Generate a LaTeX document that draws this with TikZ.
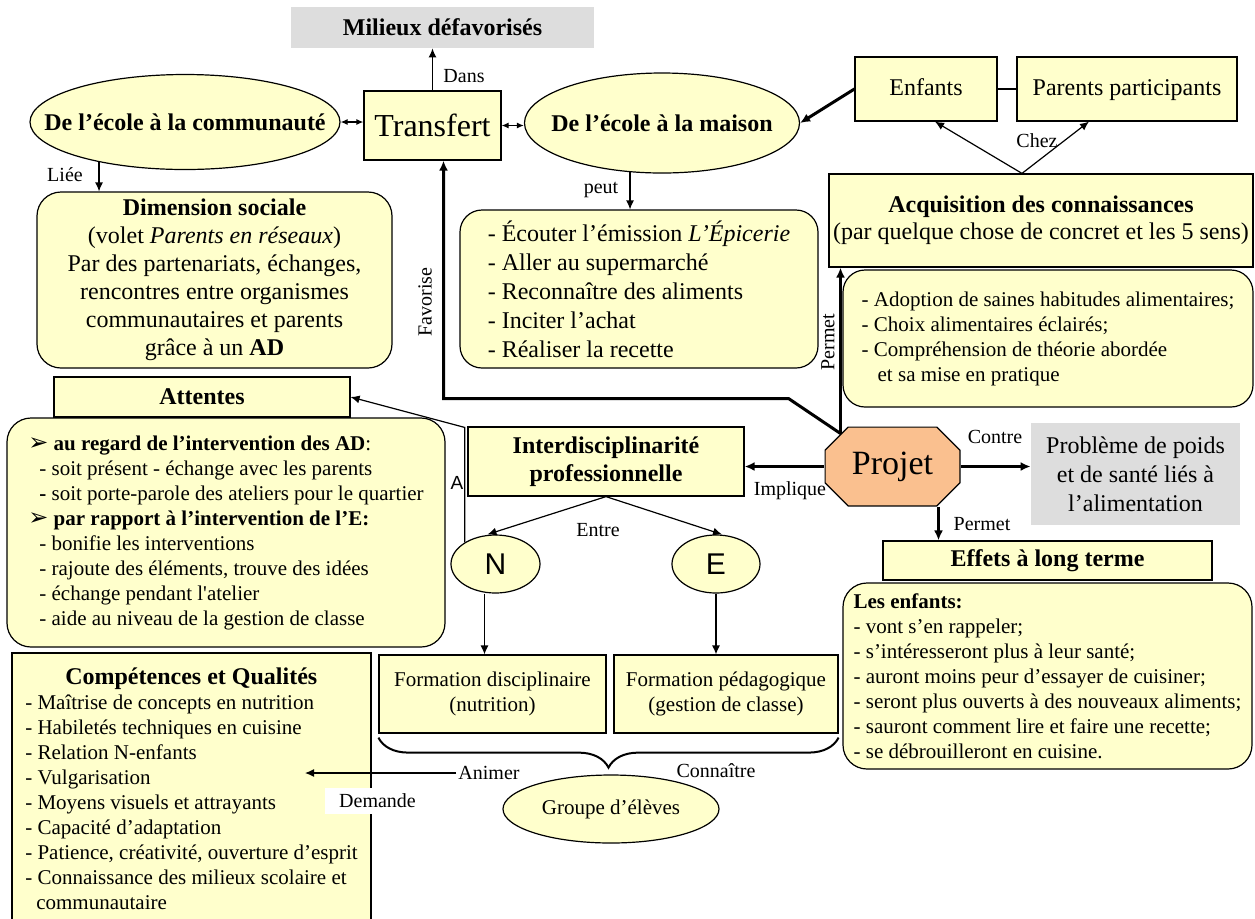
\documentclass[tikz,border=0pt]{standalone}
\usepackage{fontspec}
\setmainfont{Liberation Serif}
\newfontfamily\arialfont{Liberation Sans}
\newfontfamily\symfont{DejaVu Sans}
\usepackage{tikz}
\usetikzlibrary{shapes.geometric,arrows.meta,decorations.pathreplacing}
\definecolor{paleyellow}{RGB}{255,255,204}
\definecolor{lightgrey}{RGB}{221,221,221}
\definecolor{peach}{RGB}{250,192,143}
\newcommand{\puce}{{\symfont\char"27A2}}

\begin{document}
\begin{tikzpicture}[x=0.5pt,y=-0.5pt,
  box/.style={draw,fill=paleyellow,line width=0.6pt,inner sep=0pt,align=center,font=\fontsize{12}{14}\selectfont},
  rbox/.style={box,rounded corners=11pt},
  oval/.style={box,ellipse,inner xsep=-40pt},
  greybox/.style={fill=lightgrey,inner sep=0pt,align=center,font=\fontsize{12}{14.5}\selectfont},
  headfont/.style={font=\fontsize{12}{14}\selectfont\bfseries},
  listfont/.style={font=\fontsize{10.5}{12.5}\selectfont},
  lab/.style={inner sep=1pt,font=\fontsize{10}{12}\selectfont},
  conn/.style={line width=0.6pt,-{Latex[length=4.5pt,width=4pt]}},
  heavy/.style={line width=1.5pt,-{Latex[length=5pt,width=4.5pt]}},
  twoway/.style={line width=0.6pt,{Latex[length=3.5pt,width=3pt]}-{Latex[length=3.5pt,width=3pt]}}]
\path[use as bounding box,clip] (0,0) rectangle (1255,918);

\node[greybox,headfont,minimum width=151.5pt,minimum height=20.5pt] (milieux) at (442.5,27.5) {Milieux défavorisés};
\node[box,minimum width=68.5pt,minimum height=34.5pt,font=\fontsize{16}{18}\selectfont] (transfert) at (432.5,125.5) {Transfert};
\node[oval,headfont,minimum width=155pt,minimum height=47.5pt] (commun) at (185,122) {De l’école à la communauté};
\node[oval,headfont,minimum width=137.5pt,minimum height=50pt] (maison) at (662,123) {De l’école à la maison};
\node[box,minimum width=71pt,minimum height=32pt,text height=8.5pt,text depth=2.5pt] (enfants) at (926,89) {Enfants};
\node[box,minimum width=110pt,minimum height=32pt,text height=8.5pt,text depth=2.5pt] (parents) at (1127,89) {Parents participants};
\node[box,minimum width=212pt,minimum height=46.5pt,font=\fontsize{12}{13.5}\selectfont] (acquis) at (1041,220.5)
  {\textbf{Acquisition des connaissances}\\(par quelque chose de concret et les 5 sens)};
\node[rbox,listfont,minimum width=205pt,minimum height=68.5pt,align=left] (habitudes) at (1048,338.5)
  {- Adoption de saines habitudes alimentaires;\\- Choix alimentaires éclairés;\\- Compréhension de théorie abordée\\\hspace*{8pt}et sa mise en pratique};
\node[rbox,rounded corners=12pt,minimum width=177.5pt,minimum height=88pt] (dimension) at (214.5,280)
  {\textbf{Dimension sociale}\\(volet \textit{Parents en réseaux})\\Par des partenariats, échanges,\\rencontres entre organismes\\communautaires et parents\\grâce à un \textbf{AD}};
\node[rbox,minimum width=179pt,minimum height=79pt,align=left,font=\fontsize{12}{14.5}\selectfont] (actions) at (639,289)
  {- Écouter l’émission \textit{L’Épicerie}\\- Aller au supermarché\\- Reconnaître des aliments\\- Inciter l’achat\\- Réaliser la recette};
\node[box,headfont,minimum width=148pt,minimum height=20pt] (attentes) at (202,397) {Attentes};
\node[rbox,listfont,rounded corners=12pt,minimum width=219pt,minimum height=114.5pt,align=left] (attlist) at (226,532.5)
  {{\fontsize{12}{12.5}\selectfont\puce}\ \textbf{au regard de l’intervention des AD}:\\
   \hspace*{5.5pt}- soit présent - échange avec les parents\\
   \hspace*{5.5pt}\textbf{-} soit porte-parole des ateliers pour le quartier\\
   {\fontsize{12}{12.5}\selectfont\puce}\ \textbf{par rapport à l’intervention de l’E:}\\
   \hspace*{5.5pt}- bonifie les interventions\\
   \hspace*{5.5pt}- rajoute des éléments, trouve des idées\\
   \hspace*{5.5pt}- échange pendant l\textquotesingle atelier\\
   \hspace*{5.5pt}- aide au niveau de la gestion de classe};
\node[inner sep=0pt,minimum width=68pt,minimum height=40pt,font=\fontsize{17}{20}\selectfont,
  path picture={\draw[fill=peach,line width=0.6pt]
    ([xshift=11.8pt,yshift=-0.3pt]path picture bounding box.north west) --
    ([xshift=-11.8pt,yshift=-0.3pt]path picture bounding box.north east) --
    ([xshift=-0.3pt,yshift=-11.8pt]path picture bounding box.north east) --
    ([xshift=-0.3pt,yshift=11.8pt]path picture bounding box.south east) --
    ([xshift=-11.8pt,yshift=0.3pt]path picture bounding box.south east) --
    ([xshift=11.8pt,yshift=0.3pt]path picture bounding box.south west) --
    ([xshift=0.3pt,yshift=11.8pt]path picture bounding box.south west) --
    ([xshift=0.3pt,yshift=-11.8pt]path picture bounding box.north west) -- cycle;}] (projet) at (892.5,466.5) {Projet};
\node[greybox,minimum width=104.5pt,minimum height=51pt] (probleme) at (1135.5,474) {Problème de poids\\et de santé liés à\\l’alimentation};
\node[box,headfont,minimum width=164.5pt,minimum height=19.5pt] (effets) at (1047.5,560.5) {Effets à long terme};
\node[rbox,listfont,rounded corners=12pt,minimum width=204.5pt,minimum height=93pt,align=left] (lesenfants) at (1047.5,676)
  {\textbf{Les enfants:}\\- vont s’en rappeler;\\- s’intéresseront plus à leur santé;\\- auront moins peur d’essayer de cuisiner;\\
   - seront plus ouverts à des nouveaux aliments;\\- sauront comment lire et faire une recette;\\- se débrouilleront en cuisine.};
\node[box,headfont,minimum width=138pt,minimum height=34.5pt] (interdisc) at (606,461.5) {Interdisciplinarité\\professionnelle};
\node[oval,minimum width=44.5pt,minimum height=29pt,font=\fontsize{15}{17}\selectfont\arialfont] (N) at (495.5,564) {N};
\node[oval,minimum width=44pt,minimum height=29pt,font=\fontsize{15}{17}\selectfont\arialfont] (E) at (716,564) {E};
\node[box,listfont,minimum width=113.5pt,minimum height=39pt] (fdisc) at (492.5,694) {Formation disciplinaire\\(nutrition)};
\node[box,listfont,minimum width=112pt,minimum height=39pt] (fpeda) at (726,694) {Formation pédagogique\\(gestion de classe)};
\node[oval,listfont,minimum width=108pt,minimum height=34pt] (groupe) at (611,809) {Groupe d’élèves};
\node[box,listfont,minimum width=179.5pt,minimum height=136pt,align=left] (competences) at (191.5,789)
  {\hspace*{20pt}{\fontsize{12}{12.5}\selectfont\bfseries Compétences et Qualités}\\
   - Maîtrise de concepts en nutrition\\- Habiletés techniques en cuisine\\- Relation N-enfants\\- Vulgarisation\\
   - Moyens visuels et attrayants\\- Capacité d’adaptation\\- Patience, créativité, ouverture d’esprit\\
   - Connaissance des milieux scolaire et\\\hspace*{5.5pt}communautaire};

\coordinate (chez) at ([xshift=-9.5pt]acquis.north);
\coordinate (projetnw) at ([xshift=-26pt,yshift=16.5pt]projet.center);
\coordinate (demande) at (305,773);
\draw[conn] (transfert.north) -- (transfert.north |- milieux.south);
\draw[twoway] (commun.east) -- (commun.east -| transfert.west);
\draw[twoway] (transfert.east) -- (transfert.east -| maison.west);
\draw[heavy] (enfants.west) -- (maison.east);
\draw[line width=0.6pt] (enfants.east) -- (parents.west);
\draw[conn] (chez) -- ([xshift=4.5pt]enfants.south);
\draw[conn] (chez) -- ([xshift=-19pt]parents.south);
\draw[conn] (commun.205) -- (commun.205 |- dimension.north);
\draw[conn] (maison.237) -- (maison.237 |- actions.north);
\draw[heavy] (projetnw) -- (projetnw |- acquis.south);
\draw[heavy] (projetnw) -- ++(-52,-35) -| ([xshift=5.5pt]transfert.south);
\draw[heavy] (projet.east) -- (projet.east -| probleme.west);
\draw[heavy] ([xshift=23pt]projet.south) -- ([xshift=23pt]projet.south |- effets.north);
\draw[heavy] (projet.west) -- (projet.west -| interdisc.east);
\draw[conn] (interdisc.south) -- ([xshift=-4pt]N.north);
\draw[conn] (interdisc.south) -- ([xshift=3pt]E.north);
\draw[conn] (N.145) -- ++(0,-115) -- (attentes.east);
\draw[conn] ([xshift=-5.5pt]N.south) -- ([xshift=-5.5pt]N.south |- fdisc.north);
\draw[conn] (E.south) -- (E.south |- fpeda.north);
\draw[line width=1pt,decorate,decoration={brace,mirror,amplitude=15pt}]
  ([yshift=-2pt]fdisc.south west) -- ([yshift=-2pt]fpeda.south east);

\node[lab] (lbdans) at (464,76) {Dans};
\node[lab] (lblie) at (65,175) {Liée};
\node[lab] (lbpeut) at (601,190) {peut};
\node[lab] (lbchez) at (1037,141) {Chez};
\node[lab,rotate=90] (lbfavorise) at (425,302) {Favorise};
\node[lab,rotate=90] (lbpermet) at (828,342) {Permet};
\node[lab] (lbcontre) at (995,437) {Contre};
\node[lab] (lbpermetbas) at (982,524) {Permet};
\node[lab] (lbimplique) at (790,491) {Implique};
\node[lab] (lbentre) at (598,530) {Entre};
\node[lab,font=\fontsize{9.5}{11}\selectfont\arialfont] (lba) at (457,483) {A};
\node[lab] (animer) at (489,773) {Animer};
\node[lab] (lbconnaitre) at (716,771) {Connaître};
\draw[conn] (animer.west) -- (demande);
\node[lab,fill=white,inner xsep=7pt,inner ysep=3pt] (lbdemande) at (377.5,801) {Demande};
\end{tikzpicture}
\end{document}
